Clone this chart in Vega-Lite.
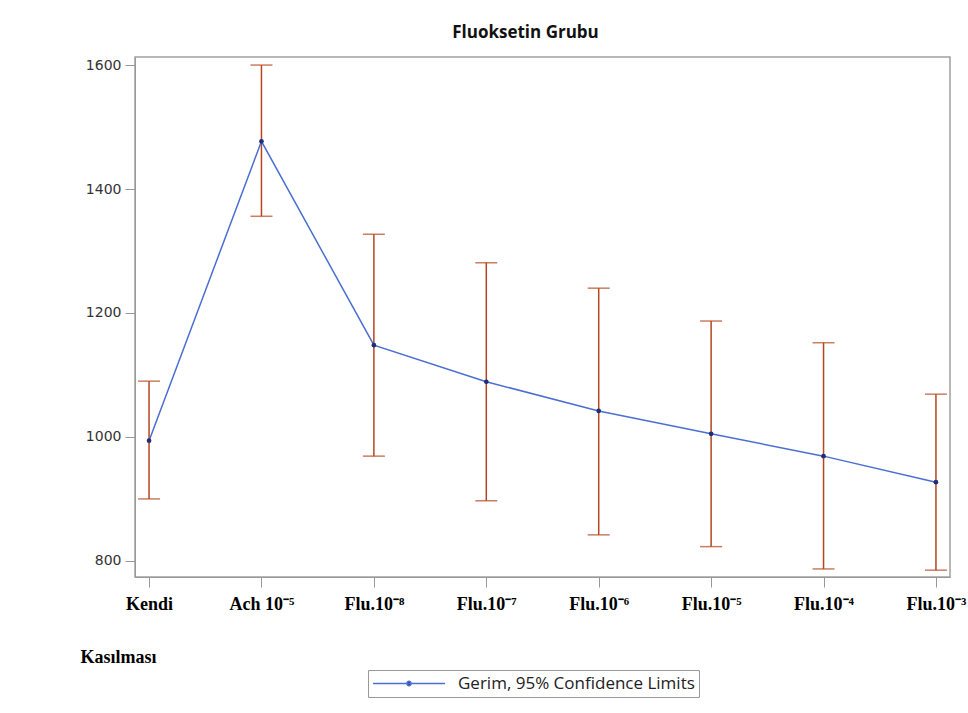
{
  "$schema": "https://vega.github.io/schema/vega-lite/v6.json",
  "autosize": "none",
  "width": 815,
  "height": 520,
  "padding": {"left": 135, "top": 57, "right": 18, "bottom": 136},
  "background": "white",
  "title": {
    "text": "Fluoksetin Grubu",
    "font": "Open Sans",
    "fontSize": 17,
    "fontWeight": "bold",
    "color": "#111",
    "dx": -17,
    "offset": 15
  },
  "data": {
    "values": [
      {"grup": "Kendi", "mean": 994, "lower": 900, "upper": 1090},
      {"grup": "Ach 10⁻⁵", "mean": 1477, "lower": 1356, "upper": 1600},
      {"grup": "Flu.10⁻⁸", "mean": 1148, "lower": 969, "upper": 1327},
      {"grup": "Flu.10⁻⁷", "mean": 1089, "lower": 897, "upper": 1281},
      {"grup": "Flu.10⁻⁶", "mean": 1042, "lower": 842, "upper": 1240},
      {"grup": "Flu.10⁻⁵", "mean": 1005, "lower": 823, "upper": 1187},
      {"grup": "Flu.10⁻⁴", "mean": 969, "lower": 787, "upper": 1152},
      {"grup": "Flu.10⁻³", "mean": 927, "lower": 785, "upper": 1069}
    ]
  },
  "encoding": {
    "x": {
      "field": "grup",
      "type": "nominal",
      "sort": null,
      "scale": {"type": "point", "padding": 0.125},
      "axis": {
        "title": "Kasılması",
        "titleFont": "Liberation Serif",
        "titleFontSize": 18,
        "titleFontWeight": "bold",
        "titleColor": "#000",
        "titleAlign": "left",
        "titleAnchor": null,
        "titleX": -55,
        "titleY": 80,
        "titleBaseline": "middle",
        "labelFont": "Liberation Serif",
        "labelFontSize": 18,
        "labelFontWeight": "bold",
        "labelColor": "#000",
        "labelAngle": 0,
        "labelPadding": 8,
        "tickSize": 10,
        "tickColor": "#999",
        "domainColor": "#999"
      }
    }
  },
  "layer": [
    {
      "mark": {"type": "rule", "color": "#b5461e", "strokeWidth": 1.5},
      "encoding": {
        "y": {"field": "lower", "type": "quantitative"},
        "y2": {"field": "upper"}
      }
    },
    {
      "mark": {"type": "tick", "color": "#b5461e", "thickness": 1.5, "size": 22},
      "encoding": {"y": {"field": "lower", "type": "quantitative"}}
    },
    {
      "mark": {"type": "tick", "color": "#b5461e", "thickness": 1.5, "size": 22},
      "encoding": {"y": {"field": "upper", "type": "quantitative"}}
    },
    {
      "mark": {"type": "line", "strokeWidth": 1.5},
      "encoding": {
        "y": {
          "field": "mean",
          "type": "quantitative",
          "scale": {"domain": [774, 1613], "nice": false, "zero": false},
          "axis": {
            "title": null,
            "values": [800, 1000, 1200, 1400, 1600],
            "format": "d",
            "grid": false,
            "labelFont": "DejaVu Sans",
            "labelFontSize": 14,
            "labelColor": "#333",
            "labelPadding": 4,
            "tickSize": 10,
            "tickColor": "#999",
            "domainColor": "#999"
          }
        },
        "color": {
          "datum": "Gerim, 95% Confidence Limits",
          "type": "nominal",
          "scale": {"range": ["#4a6fd0"]},
          "legend": {
            "title": null,
            "orient": "none",
            "legendX": 233,
            "legendY": 613,
            "padding": 4,
            "strokeColor": "#999",
            "symbolType": "M-1,0H1M-0.06,0A0.06,0.06,0,1,1,0.06,0A0.06,0.06,0,1,1,-0.06,0Z",
            "symbolSize": 5184,
            "clipHeight": 19,
            "symbolStrokeWidth": 1.5,
            "symbolFillColor": "#1f2d7a",
            "labelFont": "Open Sans",
            "labelFontSize": 17,
            "labelLimit": 400,
            "labelColor": "#222",
            "labelOffset": 12
          }
        }
      }
    },
    {
      "mark": {"type": "point", "filled": true, "color": "#1f2d7a", "size": 22, "opacity": 1},
      "encoding": {"y": {"field": "mean", "type": "quantitative"}}
    }
  ],
  "config": {
    "view": {"stroke": "#a0a0a0", "strokeWidth": 1.5}
  }
}
